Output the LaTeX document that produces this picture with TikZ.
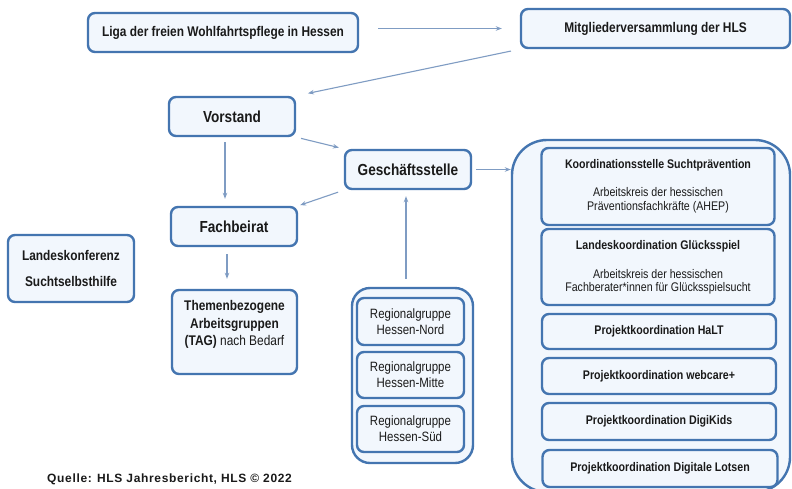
\documentclass[tikz,border=0pt]{standalone}
\usepackage{fontspec}
\setmainfont{Liberation Sans}[FakeStretch=0.85]
\newfontfamily\quellefont{Liberation Sans}[LetterSpace=5.5]
\usetikzlibrary{arrows.meta}
\definecolor{boxblue}{HTML}{4475B0}
\definecolor{boxfill}{HTML}{F2F7FD}
\definecolor{arrowc}{HTML}{7F9CC3}
\definecolor{txt}{HTML}{1A1A1A}
\begin{document}
\begin{tikzpicture}[x=1pt,y=-1pt,
  box/.style={draw=boxblue, line width=2.4pt, fill=boxfill, rounded corners=7pt,
    inner sep=0pt, align=center, text=txt},
  arr/.style={draw=arrowc, line width=1.1pt, -{Stealth[length=6pt,width=4.5pt]}},
  fbig/.style={font=\fontsize{16}{19}\selectfont\bfseries},
  fmid/.style={font=\fontsize{14}{16}\selectfont\bfseries},
  fsmall/.style={font=\fontsize{12.5}{14}\selectfont},
  freg/.style={font=\fontsize{13.5}{16}\selectfont},
  plain/.style={inner sep=0pt, align=center, text=txt}
]
\useasboundingbox (0,0) rectangle (792,488);
\fill[white] (0,0) rectangle (792,488);

% top row
\node[box, fmid, minimum width=270pt, minimum height=39pt] (liga) at (223,32.5)
  {Liga der freien Wohlfahrtspflege in Hessen};
\node[box, fmid, minimum width=269pt, minimum height=39pt] (mitglied) at (655.5,28.5)
  {Mitgliederversammlung der HLS};

% left column
\node[box, fbig, minimum width=126pt, minimum height=39pt] (vorstand) at (232,116.5) {Vorstand};
\node[box, fbig, minimum width=126pt, minimum height=39pt] (gs) at (408,169.5) {Geschäftsstelle};
\node[box, fbig, minimum width=126pt, minimum height=39pt] (fach) at (234,226.5) {Fachbeirat};
\node[box, fmid, font=\fontsize{14}{16}\selectfont\bfseries, minimum width=126pt, minimum height=67pt] (lk) at (71,268.5)
  {Landeskonferenz\\[10pt]Suchtselbsthilfe};
\node[box, minimum width=125pt, minimum height=84pt] (themen) at (234.5,332) {};
\node[plain, font=\fontsize{14}{17.5}\selectfont\bfseries] (thementext) at (234.5,324.5)
  {Themenbezogene\\Arbeitsgruppen\\(TAG) {\mdseries nach Bedarf}};

% regional groups
\node[box, rounded corners=18pt, minimum width=121pt, minimum height=175pt] (reg) at (412.5,375.5) {};
\node[box, freg, minimum width=107pt, minimum height=47pt] (nord) at (410.5,321.5) {Regionalgruppe\\Hessen-Nord};
\node[box, freg, minimum width=107pt, minimum height=46pt] (mitte) at (410.5,375) {Regionalgruppe\\Hessen-Mitte};
\node[box, freg, minimum width=107pt, minimum height=46pt] (sued) at (410.5,429) {Regionalgruppe\\Hessen-Süd};

% right column
\node[box, rounded corners=35pt, minimum width=278pt, minimum height=352pt] (right) at (651,316) {};
\node[box, fsmall, minimum width=233pt, minimum height=77pt] (koord) at (658,186.5)
  {{\bfseries Koordinationsstelle Suchtprävention}\\[14pt]Arbeitskreis der hessischen\\Präventionsfachkräfte (AHEP)};
\node[box, font=\fontsize{12.5}{13}\selectfont, minimum width=233pt, minimum height=76pt] (landes) at (658,267)
  {{\bfseries Landeskoordination Glücksspiel}\\[16pt]Arbeitskreis der hessischen\\Fachberater*innen für Glücksspielsucht};
\node[box, font=\fontsize{12.5}{14}\selectfont\bfseries, minimum width=234pt, minimum height=35pt] (halt) at (659,331.5) {Projektkoordination HaLT};
\node[box, font=\fontsize{12.5}{14}\selectfont\bfseries, minimum width=234pt, minimum height=36pt] (webcare) at (659,376) {Projektkoordination webcare+};
\node[box, font=\fontsize{12.5}{14}\selectfont\bfseries, minimum width=234pt, minimum height=37pt] (digikids) at (659,421.5) {Projektkoordination DigiKids};
\node[box, font=\fontsize{12.5}{14}\selectfont\bfseries, minimum width=235pt, minimum height=37pt] (lotsen) at (660,468.5) {Projektkoordination Digitale Lotsen};

% source
\node[plain, anchor=west, font=\quellefont\bfseries\fontsize{12}{14}\selectfont] (quelle) at (47,479)
  {Quelle: HLS Jahresbericht, HLS © 2022};

% connectors
\draw[arr, shorten <=19pt, shorten >=18pt] (liga.east |- mitglied.west) -- (mitglied.west);
\draw[arr, shorten <=9pt, shorten >=12pt] (mitglied.south west) -- (vorstand.north east);
\draw[arr, shorten <=5pt, shorten >=5pt] (vorstand.south east) -- (gs.north west);
\draw[arr, shorten <=6pt, shorten >=2pt] (gs.south west) -- (fach.north east);
\draw[arr, shorten <=5pt, shorten >=7pt] ([xshift=-7pt]vorstand.south) -- ([xshift=-9pt]fach.north);
\draw[arr, shorten <=7pt, shorten >=10pt] ([xshift=-7pt]fach.south) -- ([xshift=-7.5pt]themen.north);
\draw[arr, shorten <=8pt, shorten >=6pt] ([xshift=-6.5pt]reg.north) -- ([xshift=-2pt]gs.south);
\draw[arr, shorten <=4pt, shorten >=0pt] (gs.east) -- (right.west |- gs.east);
\end{tikzpicture}
\end{document}
